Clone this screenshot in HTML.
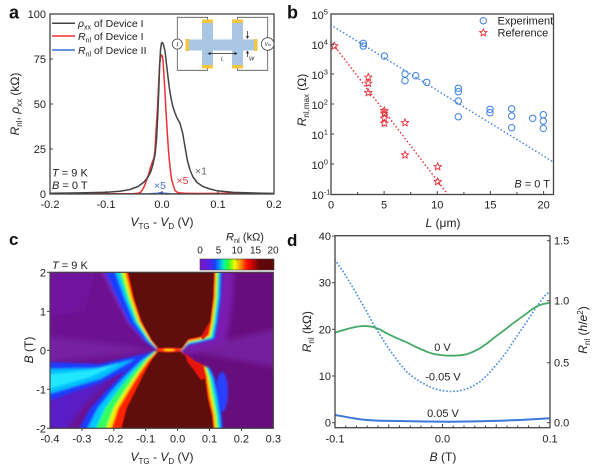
<!DOCTYPE html>
<html><head><meta charset="utf-8"><style>
html,body{margin:0;padding:0;background:#fff;}
svg{display:block;font-family:"Liberation Sans",Arial,sans-serif;}
</style></head><body>
<svg width="602" height="471" viewBox="0 0 602 471" xmlns="http://www.w3.org/2000/svg">
<defs>
<clipPath id="ca"><rect x="50" y="14" width="224" height="180"/></clipPath>
<clipPath id="cb"><rect x="331" y="14" width="222.5" height="180.5"/></clipPath>
<clipPath id="cc"><rect x="50" y="272.3" width="223.3" height="156"/></clipPath>
<clipPath id="cd"><rect x="335" y="235.7" width="215" height="192"/></clipPath>
<filter id="bl1" x="-10%" y="-10%" width="120%" height="120%"><feGaussianBlur stdDeviation="1.1"/></filter>
<filter id="bl3" x="-20%" y="-20%" width="140%" height="140%"><feGaussianBlur stdDeviation="3"/></filter>
<filter id="bl05"><feGaussianBlur stdDeviation="0.5"/></filter>
<linearGradient id="cbar" x1="0" x2="1" y1="0" y2="0">
<stop offset="0" stop-color="#7a18c8"/>
<stop offset="0.12" stop-color="#5a1ee6"/>
<stop offset="0.2" stop-color="#1a3cff"/>
<stop offset="0.27" stop-color="#00a8ff"/>
<stop offset="0.33" stop-color="#00ffa0"/>
<stop offset="0.39" stop-color="#40ff20"/>
<stop offset="0.47" stop-color="#f0ff00"/>
<stop offset="0.55" stop-color="#ff9000"/>
<stop offset="0.63" stop-color="#ff1000"/>
<stop offset="0.72" stop-color="#c00000"/>
<stop offset="0.8" stop-color="#640808"/>
<stop offset="1" stop-color="#5a0808"/>
</linearGradient>
<path id="st" d="M0,-4 L1,-1.375 L3.804,-1.236 L1.617,0.525 L2.351,3.236 L0,1.7 L-2.351,3.236 L-1.617,0.525 L-3.804,-1.236 L-1,-1.375 Z" fill="none" stroke="#e8333a" stroke-width="0.9" stroke-linejoin="round"/>
</defs>

<!-- ============ PANEL A ============ -->
<text x="9" y="18.5" font-size="18" font-weight="bold" fill="#111">a</text>
<g clip-path="url(#ca)" fill="none" stroke-linejoin="round">
<path d="M50,194 L150,193.8 L158,193.2 L161,192.6 L164,193.3 L170,193.8 L274,194" stroke="#3b6fd8" stroke-width="1.5"/>
<path d="M50,193.8 L133,193.8 L138,193.3 L141,192 L144,187 L146.7,180 L149,173 L150.7,166.7 L152.7,161 L154,158 L155,150 L156,132 L157.5,108 L158.7,83 L159.7,64 L160.6,57 L161.4,55 L162.3,56 L163,60 L164,76 L165,92 L165.7,106 L167.3,133 L168.3,148 L169.3,160 L170.5,171 L171.7,180 L173.5,186 L175,190.5 L178,192.8 L185,193.3 L200,193.5 L230,193.2 L274,193.5" stroke="#ee3035" stroke-width="1.5"/>
<path d="M50,193.3 L80,192.9 L106.7,192.3 L120,191.2 L130,189.5 L138,186.5 L144,182 L148.3,176.7 L151,171 L153,164 L155,155 L156.5,140 L157.8,115 L158.8,90 L159.6,66 L160.5,50 L161.5,43 L162.5,42.5 L163.5,45 L165,51 L166.5,64 L168,77 L169.5,89 L171,98 L172.7,106 L175,113 L177,118 L180,123.3 L182.7,133.3 L185,146.7 L187.3,160 L190,170 L193,177 L197,182.5 L203.3,186.7 L210,189 L216.7,190.7 L233.3,192.4 L274,193.5" stroke="#444" stroke-width="1.5"/>
</g>
<rect x="50" y="14" width="224" height="180" fill="none" stroke="#444" stroke-width="1.3"/>
<g stroke="#444" stroke-width="1">
<line x1="106" y1="194" x2="106" y2="191"/><line x1="162" y1="194" x2="162" y2="191"/><line x1="218" y1="194" x2="218" y2="191"/>
<line x1="50" y1="149" x2="53" y2="149"/><line x1="50" y1="104" x2="53" y2="104"/><line x1="50" y1="59" x2="53" y2="59"/>
</g>
<g font-size="11" fill="#222" text-anchor="end">
<text x="46" y="18">100</text><text x="46" y="63">75</text><text x="46" y="108">50</text><text x="46" y="153">25</text><text x="46" y="198">0</text>
</g>
<g font-size="11" fill="#222" text-anchor="middle">
<text x="50" y="208">-0.2</text><text x="106" y="208">-0.1</text><text x="162" y="208">0.0</text><text x="218" y="208">0.1</text><text x="274" y="208">0.2</text>
</g>
<text x="162" y="226" font-size="12" fill="#222" text-anchor="middle"><tspan font-style="italic">V</tspan><tspan font-size="8" dy="3">TG</tspan><tspan dy="-3"> - </tspan><tspan font-style="italic">V</tspan><tspan font-size="8" dy="3">D</tspan><tspan dy="-3"> (V)</tspan></text>
<text transform="translate(19,104) rotate(-90)" font-size="12" fill="#222" text-anchor="middle"><tspan font-style="italic">R</tspan><tspan font-size="8" dy="3">nl</tspan><tspan dy="-3">, </tspan><tspan font-style="italic">ρ</tspan><tspan font-size="8" dy="3">xx</tspan><tspan dy="-3"> (kΩ)</tspan></text>
<!-- legend a -->
<line x1="52" y1="23.3" x2="75" y2="23.3" stroke="#444" stroke-width="1.5"/>
<line x1="52" y1="36" x2="75" y2="36" stroke="#ee3035" stroke-width="1.5"/>
<line x1="52" y1="50" x2="75" y2="50" stroke="#3b6fd8" stroke-width="1.5"/>
<g font-size="10.5" fill="#222">
<text x="78" y="27"><tspan font-style="italic">ρ</tspan><tspan font-size="7" dy="2.5">xx</tspan><tspan dy="-2.5"> of Device I</tspan></text>
<text x="78" y="40"><tspan font-style="italic">R</tspan><tspan font-size="7" dy="2.5">nl</tspan><tspan dy="-2.5"> of Device I</tspan></text>
<text x="78" y="54"><tspan font-style="italic">R</tspan><tspan font-size="7" dy="2.5">nl</tspan><tspan dy="-2.5"> of Device II</tspan></text>
</g>
<g font-size="11" fill="#222">
<text x="52" y="176.5"><tspan font-style="italic">T</tspan> = 9 K</text>
<text x="52" y="189"><tspan font-style="italic">B</tspan> = 0 T</text>
</g>
<text x="195" y="174.5" font-size="10.5" fill="#666">×1</text>
<text x="176.5" y="184" font-size="10.5" fill="#ee3035">×5</text>
<text x="154" y="189" font-size="10.5" fill="#3b6fd8">×5</text>
<!-- inset -->
<g fill="none" stroke="#555" stroke-width="0.8">
<path d="M207.5,21 L207.5,17.3 L177.3,17.3 L177.3,70.3 L207.5,70.3 L207.5,67"/>
<path d="M237.5,21 L237.5,17.3 L267.7,17.3 L267.7,70.3 L237.5,70.3 L237.5,67"/>
</g>
<g fill="#a9c6e4">
<rect x="187" y="39.5" width="69" height="11"/>
<rect x="202" y="21" width="11" height="46"/>
<rect x="232" y="21" width="11" height="46"/>
</g>
<g fill="#f3c641">
<rect x="202" y="19.5" width="11" height="3.5"/><rect x="202" y="65" width="11" height="3.5"/>
<rect x="232" y="19.5" width="11" height="3.5"/><rect x="232" y="65" width="11" height="3.5"/>
<rect x="185.5" y="39" width="3.5" height="12"/><rect x="254" y="39" width="3.5" height="12"/>
</g>
<circle cx="177.3" cy="44" r="5" fill="#fff" stroke="#444" stroke-width="0.8"/>
<text x="177.3" y="46.5" font-size="6.5" font-style="italic" text-anchor="middle" fill="#222">I</text>
<circle cx="267.7" cy="44" r="6.3" fill="#fff" stroke="#444" stroke-width="0.8"/>
<text x="267.7" y="46" font-size="5" text-anchor="middle" fill="#222"><tspan font-style="italic">V</tspan><tspan font-size="3.5">nl</tspan></text>
<g stroke="#222" stroke-width="0.7" fill="#222">
<line x1="209" y1="53.5" x2="236" y2="53.5"/>
<path d="M207.5,53.5 L210.5,52 L210.5,55 Z" stroke="none"/>
<path d="M237.5,53.5 L234.5,52 L234.5,55 Z" stroke="none"/>
<line x1="247.5" y1="31" x2="247.5" y2="37"/>
<path d="M247.5,39 L246,36 L249,36 Z" stroke="none"/>
<line x1="247.5" y1="52" x2="247.5" y2="57"/>
<path d="M247.5,50.5 L246,53.5 L249,53.5 Z" stroke="none"/>
</g>
<text x="221" y="60.5" font-size="5.5" font-style="italic" fill="#222">L</text>
<text x="249" y="60.5" font-size="5.5" font-style="italic" fill="#222">W</text>

<!-- ============ PANEL B ============ -->
<text x="287" y="18.5" font-size="18" font-weight="bold" fill="#111">b</text>
<g clip-path="url(#cb)">
<line x1="331" y1="25" x2="555" y2="163" stroke="#4a86e0" stroke-width="1.6" stroke-dasharray="0.1 3.6" stroke-linecap="round"/>
<line x1="331" y1="41.5" x2="449" y2="196" stroke="#e8333a" stroke-width="1.6" stroke-dasharray="0.1 3.6" stroke-linecap="round"/>
<g fill="none" stroke="#3d7fe0" stroke-width="1">
<circle cx="363.3" cy="43.3" r="3.2"/><circle cx="363.3" cy="46" r="3.2"/>
<circle cx="384.3" cy="56" r="3.2"/>
<circle cx="405" cy="74" r="3.2"/><circle cx="405" cy="80.7" r="3.2"/>
<circle cx="415.7" cy="75.7" r="3.2"/><circle cx="426.7" cy="82.3" r="3.2"/>
<circle cx="458.3" cy="88.3" r="3.2"/><circle cx="458.3" cy="91.7" r="3.2"/><circle cx="458.3" cy="101" r="3.2"/><circle cx="458.3" cy="116.7" r="3.2"/>
<circle cx="490" cy="109.3" r="3.2"/><circle cx="490" cy="112.7" r="3.2"/>
<circle cx="511.7" cy="108.7" r="3.2"/><circle cx="511.7" cy="116" r="3.2"/><circle cx="511.7" cy="127.7" r="3.2"/>
<circle cx="532.7" cy="118.3" r="3.2"/>
<circle cx="543.3" cy="114.7" r="3.2"/><circle cx="543.3" cy="121" r="3.2"/><circle cx="543.3" cy="128.3" r="3.2"/>
</g>
<use href="#st" x="334.3" y="46"/>
<use href="#st" x="368.3" y="77.3"/><use href="#st" x="368.3" y="83.3"/><use href="#st" x="368.3" y="92.7"/>
<use href="#st" x="384.3" y="110.7"/><use href="#st" x="384.3" y="113.3"/><use href="#st" x="384.3" y="118.3"/><use href="#st" x="384.3" y="123.3"/>
<use href="#st" x="405" y="122.7"/><use href="#st" x="405" y="155"/>
<use href="#st" x="437.7" y="166.7"/><use href="#st" x="437.7" y="181.7"/>
</g>
<rect x="331" y="14" width="222.5" height="180.5" fill="none" stroke="#444" stroke-width="1.3"/>
<g stroke="#444" stroke-width="1">
<line x1="357.6" y1="194.5" x2="357.6" y2="192"/><line x1="384.1" y1="194.5" x2="384.1" y2="191"/><line x1="410.7" y1="194.5" x2="410.7" y2="192"/><line x1="437.3" y1="194.5" x2="437.3" y2="191"/><line x1="463.9" y1="194.5" x2="463.9" y2="192"/><line x1="490.4" y1="194.5" x2="490.4" y2="191"/><line x1="517" y1="194.5" x2="517" y2="192"/><line x1="543.6" y1="194.5" x2="543.6" y2="191"/>
<line x1="331" y1="44" x2="334" y2="44"/><line x1="331" y1="74" x2="334" y2="74"/><line x1="331" y1="104" x2="334" y2="104"/><line x1="331" y1="134" x2="334" y2="134"/><line x1="331" y1="164" x2="334" y2="164"/>
</g>
<g font-size="11" fill="#222">
<text x="311.5" y="19">10<tspan font-size="7.5" dy="-4.5">5</tspan></text>
<text x="311.5" y="49">10<tspan font-size="7.5" dy="-4.5">4</tspan></text>
<text x="311.5" y="79">10<tspan font-size="7.5" dy="-4.5">3</tspan></text>
<text x="311.5" y="109">10<tspan font-size="7.5" dy="-4.5">2</tspan></text>
<text x="311.5" y="139">10<tspan font-size="7.5" dy="-4.5">1</tspan></text>
<text x="311.5" y="169">10<tspan font-size="7.5" dy="-4.5">0</tspan></text>
<text x="311.5" y="199">10<tspan font-size="7.5" dy="-4.5">-1</tspan></text>
</g>
<g font-size="11" fill="#222" text-anchor="middle">
<text x="331" y="208.5">0</text><text x="384.1" y="208.5">5</text><text x="437.3" y="208.5">10</text><text x="490.4" y="208.5">15</text><text x="543.6" y="208.5">20</text>
</g>
<text x="443" y="227" font-size="12" fill="#222" text-anchor="middle"><tspan font-style="italic">L</tspan> (μm)</text>
<text transform="translate(306,100) rotate(-90)" font-size="12" fill="#222" text-anchor="middle"><tspan font-style="italic">R</tspan><tspan font-size="8" dy="3">nl,max</tspan><tspan dy="-3"> (Ω)</tspan></text>
<circle cx="483.3" cy="20.7" r="3.2" fill="none" stroke="#3d7fe0" stroke-width="1"/>
<use href="#st" x="483.3" y="32.7"/>
<g font-size="11" fill="#222">
<text x="497.5" y="24.7">Experiment</text>
<text x="497.5" y="36.7">Reference</text>
<text x="550" y="187.5" text-anchor="end"><tspan font-style="italic">B</tspan> = 0 T</text>
</g>

<!-- ============ PANEL C ============ -->
<text x="9" y="245" font-size="17" font-weight="bold" fill="#111">c</text>
<g clip-path="url(#cc)">
<rect x="45" y="265" width="235" height="170" fill="#6c1290"/>
<polygon points="200,265 280,265 280,435 205,435 195,350" fill="#680c7e" filter="url(#bl3)"/>
<g filter="url(#bl3)">
<polygon points="45,336 156,350 45,362" fill="#8030b8" opacity="0.45"/>
<polygon points="183,350 280,328 280,368" fill="#8232bc" opacity="0.5"/>
<polygon points="45,272 95,272 85,310 45,318" fill="#7418a6" opacity="0.6"/>
<polygon points="45,398 100,380 145,360 152,352 136,360 117,375 97.8,391.7 81.7,408.3 68.8,428.3 66,433 45,433" fill="#5a1ec4"/>
</g>
<!-- cyan streak -->
<g filter="url(#bl1)">
<polygon points="45,362 100,364 130,357 150,353 130,369 100,383 45,402" fill="#1a3cff"/>
<polygon points="45,369 100,368 135,359 100,379 45,395" fill="#00c0ff"/>
<polygon points="45,375 90,370 120,363 90,377 45,390" fill="#20e8ff"/>
</g>
<!-- blue bulge right -->
<ellipse cx="222" cy="392" rx="6" ry="20" fill="#2a40ff" filter="url(#bl1)"/>
<!-- light purple right of TR band -->
<polygon points="234.5,268 234,272 233,298 230,322 225,345 198,350 184,353 175,350 175,300 190,268" fill="#7a1cb0" filter="url(#bl3)"/>
<g filter="url(#bl1)">
<!-- TL bands -->
<polygon points="99.1,268 100.7,272 113.6,298 126.1,322 142.1,340 154.7,349 165,349 165,268" fill="#7420b0"/>
<polygon points="103.8,268 105.3,272 117,298 128.7,322 143.7,340 155.3,349 165,349 165,268" fill="#1a3cff"/>
<polygon points="113.9,268 115.2,272 124.3,298 134.3,322 147.1,340 156.6,349 165,349 165,268" fill="#00c8ff"/>
<polygon points="117.9,268 119.1,272 127.2,298 136.5,322 148.5,340 157.1,349 165,349 165,268" fill="#30ff60"/>
<polygon points="121,268 122.1,272 129.4,298 138.2,322 149.5,340 157.5,349 165,349 165,268" fill="#f0f000"/>
<polygon points="124.2,268 125.3,272 131.8,298 140,322 150.7,340 157.9,349 165,349 165,268" fill="#ff2000"/>
<!-- TR bands -->
<polygon points="222.5,268 222,272 221,298 218,322 215,339 198.3,343 188.3,345 182,351 175,350 175,300 190,268" fill="#1a3cff"/>
<polygon points="220.9,268 220.4,272 219.4,298 216.4,322 213.4,338.2 198.3,342 188.3,344 182,350.6 175,350 175,300 190,268" fill="#00c8ff"/>
<polygon points="219.3,268 218.8,272 217.8,298 214.8,322 211.8,337.4 198.3,341 188.3,343 182,350.2 175,350 175,300 190,268" fill="#30ff60"/>
<polygon points="217.7,268 217.2,272 216.2,298 213.2,322 210.2,336.6 198.3,340 188.3,342 182,349.8 175,350 175,300 190,268" fill="#f0f000"/>
<polygon points="216.1,268 215.6,272 214.6,298 211.6,322 208.6,335.8 198.3,339 188.3,341 182,349.4 175,350 175,300 190,268" fill="#ff2000"/>
<!-- BL bands -->
<polygon points="153.3,351 139.2,360 122.1,375 105,391.7 90.4,408.3 79,428.3 76.8,433 165,433 165,351" fill="#1a3cff"/>
<polygon points="154.3,351 141.7,360 126.3,375 111,391.7 97.7,408.3 87.5,428.3 85.5,433 165,433 165,351" fill="#00c8ff"/>
<polygon points="155.3,351 144.2,360 130.55,375 117,391.7 104.95,408.3 96,428.3 94.25,433 165,433 165,351" fill="#30ff60"/>
<polygon points="156.5,351 147.2,360 135.65,375 124.2,391.7 113.65,408.3 106.2,428.3 104.75,433 165,433 165,351" fill="#f0f000"/>
<polygon points="157.1,351 148.7,360 138.2,375 127.8,391.7 118,408.3 111.3,428.3 110,433 165,433 165,351" fill="#ff2000"/>
<!-- BR bands -->
<polygon points="183,354 195,367 210,368 215,378 219.7,398 221.7,415 223.3,433 175,433 175,352" fill="#1a3cff"/>
<polygon points="182.6,353.4 194.4,366 208.4,367.4 213,378 217.3,398 219.7,415 221.3,433 175,433 175,352" fill="#00c8ff"/>
<polygon points="182.2,352.8 193.8,365 206.8,366.8 211,378 214.9,398 217.7,415 219.3,433 175,433 175,352" fill="#30ff60"/>
<polygon points="181.8,352.2 193.2,364 205.2,366.2 209,378 212.5,398 215.7,415 217.3,433 175,433 175,352" fill="#f0f000"/>
<polygon points="181.4,351.6 192.6,363 203.6,365.6 207,378 210.1,398 213.7,415 215.3,433 175,433 175,352" fill="#ff2000"/>
</g>
<g filter="url(#bl05)">
<polygon points="127.3,268 128.3,272.3 134,298.3 141.7,321.7 151.7,340 158.3,348.3 181.7,348.3 188.3,339 198.3,337 207,334 210,322 213,298.3 214,272.3 214.5,268" fill="#600a0a"/>
<polygon points="158.3,351.5 151.7,360 143.3,375 135,391.7 126.7,408.3 121.5,428.3 120.5,433 214,433 213.3,428.3 211.7,415 207.7,398.3 205,378.3 201.7,365 191.7,361.7 180,351.5" fill="#600a0a"/>
<polygon points="186,354 195,361 203,365 206,378 201,380 194,370 187,361" fill="#e81808"/>
<polygon points="203,340 208,334 210,322 206,328 201,337" fill="#e81808"/>
<ellipse cx="169" cy="350" rx="12.5" ry="2.3" fill="#ff3010"/>
<ellipse cx="169" cy="350" rx="6" ry="1.1" fill="#ffd000"/>
</g>
</g>
<rect x="50" y="272.3" width="223.3" height="156" fill="none" stroke="#444" stroke-width="1.2"/>
<g stroke="#444" stroke-width="1">
<line x1="47" y1="272.3" x2="50" y2="272.3"/><line x1="47" y1="311.3" x2="50" y2="311.3"/><line x1="47" y1="350.3" x2="50" y2="350.3"/><line x1="47" y1="389.3" x2="50" y2="389.3"/><line x1="47" y1="428.3" x2="50" y2="428.3"/>
<line x1="81.9" y1="428.3" x2="81.9" y2="431"/><line x1="113.8" y1="428.3" x2="113.8" y2="431"/><line x1="145.7" y1="428.3" x2="145.7" y2="431"/><line x1="177.6" y1="428.3" x2="177.6" y2="431"/><line x1="209.5" y1="428.3" x2="209.5" y2="431"/><line x1="241.4" y1="428.3" x2="241.4" y2="431"/>
</g>
<g font-size="11" fill="#222" text-anchor="end">
<text x="46" y="276.3">2</text><text x="46" y="315.3">1</text><text x="46" y="354.3">0</text><text x="46" y="393.3">-1</text><text x="46" y="432.3">-2</text>
</g>
<g font-size="11" fill="#222" text-anchor="middle">
<text x="50" y="442.5">-0.4</text><text x="81.9" y="442.5">-0.3</text><text x="113.8" y="442.5">-0.2</text><text x="145.7" y="442.5">-0.1</text><text x="177.6" y="442.5">0.0</text><text x="209.5" y="442.5">0.1</text><text x="241.4" y="442.5">0.2</text><text x="273.3" y="442.5">0.3</text>
</g>
<text x="162" y="461" font-size="12" fill="#222" text-anchor="middle"><tspan font-style="italic">V</tspan><tspan font-size="8" dy="3">TG</tspan><tspan dy="-3"> - </tspan><tspan font-style="italic">V</tspan><tspan font-size="8" dy="3">D</tspan><tspan dy="-3"> (V)</tspan></text>
<text transform="translate(33,350) rotate(-90)" font-size="12" fill="#222" text-anchor="middle"><tspan font-style="italic">B</tspan> (T)</text>
<text x="52" y="269" font-size="11" fill="#222"><tspan font-style="italic">T</tspan> = 9 K</text>
<!-- colorbar -->
<rect x="200" y="259" width="74" height="11" fill="url(#cbar)" stroke="#444" stroke-width="0.6"/>
<g stroke="#444" stroke-width="0.6">
<line x1="218.5" y1="259" x2="218.5" y2="261"/><line x1="237" y1="259" x2="237" y2="261"/><line x1="255.5" y1="259" x2="255.5" y2="261"/>
</g>
<g font-size="10" fill="#222" text-anchor="middle">
<text x="200" y="253.5">0</text><text x="218.5" y="253.5">5</text><text x="237" y="253.5">10</text><text x="255.5" y="253.5">15</text><text x="273" y="253.5">20</text>
</g>
<text x="245" y="240.5" font-size="11" fill="#222" text-anchor="middle"><tspan font-style="italic">R</tspan><tspan font-size="7.5" dy="2.5">nl</tspan><tspan dy="-2.5"> (kΩ)</tspan></text>

<!-- ============ PANEL D ============ -->
<text x="287" y="246" font-size="17" font-weight="bold" fill="#111">d</text>
<g clip-path="url(#cd)" fill="none" stroke-linejoin="round">
<path d="M335,260 L339,265.5 L343.3,271.7 L348,279.5 L353.3,288.3 L360,300 L366.7,311.7 L373,323.5 L380,335 L386.7,345.5 L393.3,355 L400,364 L406.7,371.7 L413,377 L420,381.7 L426.7,385.3 L433.3,388.3 L441,390.5 L450,391.5 L458,391 L466.7,389 L473,386 L480,381.7 L487,375.5 L493.3,368.3 L500,360.5 L506.7,351.7 L513,342 L520,331.7 L527,321.5 L533.3,311.7 L540,302 L546,294.5 L550,291.7" stroke="#4d8fe6" stroke-width="1.8" stroke-dasharray="0.1 3.4" stroke-linecap="round"/>
<path d="M335,332.7 L342,330.5 L350,328.3 L357,326.6 L363.3,326 L368,326.2 L373.3,327 L380,329.5 L386.7,333.3 L396,337.8 L406.7,342.3 L416,347 L426.7,351.7 L433,353.8 L440,355 L446,355.6 L453.3,355.7 L460,355.3 L466.7,354.3 L473,351.8 L480,348.3 L487,343.5 L493.3,338.3 L500,333.3 L506.7,328.3 L513,323.3 L520,318.3 L527,313.2 L533.3,308.3 L538,305.8 L543.3,304 L550,302.7" stroke="#45a865" stroke-width="1.8"/>
<path d="M335,415 L342,416.2 L350,417.7 L358,419 L366.7,420 L380,420.7 L400,421 L425,421.5 L450,421.7 L475,421.4 L500,420.7 L520,420 L533.3,419.3 L550,418.3" stroke="#3b78dc" stroke-width="2"/>
</g>
<rect x="335" y="235.7" width="215" height="192" fill="none" stroke="#444" stroke-width="1.3"/>
<g stroke="#444" stroke-width="1">
<line x1="332" y1="236" x2="335" y2="236"/><line x1="332" y1="282.7" x2="335" y2="282.7"/><line x1="332" y1="329.3" x2="335" y2="329.3"/><line x1="332" y1="376" x2="335" y2="376"/><line x1="332" y1="422.7" x2="335" y2="422.7"/>
<line x1="547" y1="240.7" x2="550" y2="240.7"/><line x1="547" y1="300.7" x2="550" y2="300.7"/><line x1="547" y1="362.7" x2="550" y2="362.7"/><line x1="547" y1="422.7" x2="550" y2="422.7"/>
<line x1="345.75" y1="427.7" x2="345.75" y2="425.5"/><line x1="356.5" y1="427.7" x2="356.5" y2="425.5"/><line x1="367.25" y1="427.7" x2="367.25" y2="425.5"/><line x1="378" y1="427.7" x2="378" y2="425.5"/><line x1="388.75" y1="427.7" x2="388.75" y2="424.5"/><line x1="399.5" y1="427.7" x2="399.5" y2="425.5"/><line x1="410.25" y1="427.7" x2="410.25" y2="425.5"/><line x1="421" y1="427.7" x2="421" y2="425.5"/><line x1="431.75" y1="427.7" x2="431.75" y2="425.5"/><line x1="442.5" y1="427.7" x2="442.5" y2="424"/><line x1="453.25" y1="427.7" x2="453.25" y2="425.5"/><line x1="464" y1="427.7" x2="464" y2="425.5"/><line x1="474.75" y1="427.7" x2="474.75" y2="425.5"/><line x1="485.5" y1="427.7" x2="485.5" y2="425.5"/><line x1="496.25" y1="427.7" x2="496.25" y2="424.5"/><line x1="507" y1="427.7" x2="507" y2="425.5"/><line x1="517.75" y1="427.7" x2="517.75" y2="425.5"/><line x1="528.5" y1="427.7" x2="528.5" y2="425.5"/><line x1="539.25" y1="427.7" x2="539.25" y2="425.5"/>
</g>
<g font-size="11" fill="#222" text-anchor="end">
<text x="331" y="240">40</text><text x="331" y="286.7">30</text><text x="331" y="333.3">20</text><text x="331" y="380">10</text><text x="331" y="426.7">0</text>
</g>
<g font-size="11" fill="#222">
<text x="554" y="244.7">1.5</text><text x="554" y="304.7">1.0</text><text x="554" y="366.7">0.5</text><text x="554" y="426.7">0.0</text>
</g>
<g font-size="11" fill="#222" text-anchor="middle">
<text x="335" y="442.5">-0.1</text><text x="442.5" y="442.5">0.0</text><text x="550" y="442.5">0.1</text>
</g>
<text x="443" y="461" font-size="12" fill="#222" text-anchor="middle"><tspan font-style="italic">B</tspan> (T)</text>
<text transform="translate(311,331.7) rotate(-90)" font-size="12" fill="#222" text-anchor="middle"><tspan font-style="italic">R</tspan><tspan font-size="8" dy="3">nl</tspan><tspan dy="-3"> (kΩ)</tspan></text>
<text transform="translate(587,330) rotate(-90)" font-size="12" fill="#222" text-anchor="middle"><tspan font-style="italic">R</tspan><tspan font-size="8" dy="3">nl</tspan><tspan dy="-3"> (</tspan><tspan font-style="italic">h</tspan>/<tspan font-style="italic">e</tspan><tspan font-size="8" dy="-4">2</tspan><tspan dy="4">)</tspan></text>
<g font-size="11" fill="#222" text-anchor="middle">
<text x="442.5" y="351">0 V</text>
<text x="443" y="380.5">-0.05 V</text>
<text x="443" y="417">0.05 V</text>
</g>
</svg>
</body></html>
